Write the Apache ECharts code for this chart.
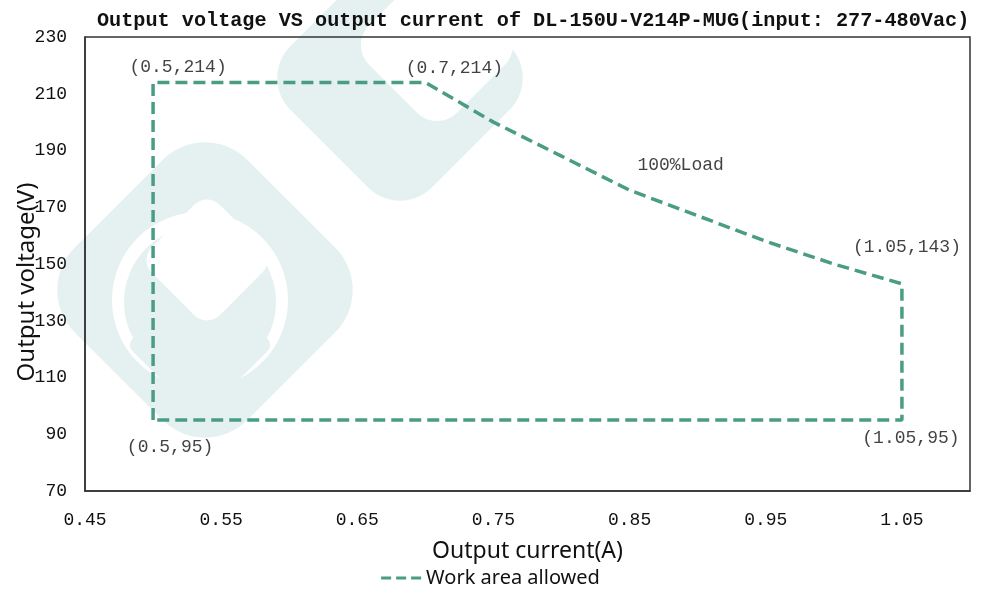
<!DOCTYPE html>
<html>
<head>
<meta charset="utf-8">
<script src="https://cdn.jsdelivr.net/npm/echarts@6/dist/echarts.min.js"></script>
<style>html,body{margin:0;padding:0;background:#fff}#c{width:981px;height:591px}</style>
</head>
<body>
<div id="c"></div>
<script>
// ---- data ----
var titleText = 'Output voltage VS output current of DL-150U-V214P-MUG(input: 277-480Vac)';
var xName = 'Output current(A)';
var yName = 'Output voltage(V)';
var seriesName = 'Work area allowed';
// work-area boundary (current A, voltage V)
var workCurrent = [0.5, 0.5, 0.7, 0.75, 0.8, 0.85, 0.9, 0.95, 1.0, 1.05, 1.05, 0.5];
var workVoltage = [95, 214, 214, 200, 188, 176, 167, 158, 150, 143, 95, 95];
// annotated points
var annCurrent = [0.5, 0.7, 1.05, 0.5, 1.05, 0.85];
var annVoltage = [214, 214, 143, 95, 95, 176];
var annText = ['(0.5,214)', '(0.7,214)', '(1.05,143)', '(0.5,95)', '(1.05,95)', '100%Load'];
var xMin = 0.45, xMax = 1.1, xStep = 0.1;
var yMin = 70, yMax = 230, yStep = 20;

// ---- styling / layout ----
var annOffsets = [[25, -15], [29, -14], [5, -37], [17, 27], [9, 18], [51, -25]];
var lineColor = '#4a9d84';
var mono = '"Liberation Mono", "DejaVu Sans Mono", monospace';
var sans = '"Noto Sans", "Open Sans", sans-serif';
var wm = '#e5f1f0';

var workData = workCurrent.map(function (c, i) { return [c, workVoltage[i]]; });
var annData = annCurrent.map(function (c, i) {
  return {
    value: [c, annVoltage[i]],
    label: { show: true, formatter: annText[i], offset: annOffsets[i] }
  };
});

var chart = echarts.init(document.getElementById('c'), null, { renderer: 'canvas' });
chart.setOption({
  backgroundColor: '#fff',
  animation: false,
  title: {
    text: titleText,
    left: 92, top: 6,
    textStyle: { fontFamily: mono, fontSize: 20.2, fontWeight: 'bold', color: '#111' }
  },
  graphic: [
    // top watermark
    { type: 'rect', x: 400, y: 78, rotation: Math.PI / 4, z: -10, silent: true,
      shape: { x: -100, y: -100, width: 200, height: 200, r: 45 }, style: { fill: wm } },
    { type: 'rect', x: 437, y: 45, rotation: Math.PI / 4, z: -9, silent: true,
      shape: { x: -62, y: -62, width: 124, height: 124, r: 28 }, style: { fill: '#fff' } },
    // left watermark
    { type: 'rect', x: 205, y: 290, rotation: Math.PI / 4, z: -10, silent: true,
      shape: { x: -122, y: -122, width: 244, height: 244, r: 60 }, style: { fill: wm } },
    { type: 'circle', x: 200, y: 300, z: -9, silent: true,
      shape: { r: 88 }, style: { fill: '#fff' } },
    { type: 'circle', x: 200, y: 302, z: -8, silent: true,
      shape: { r: 76 }, style: { fill: wm } },
    { type: 'rect', x: 200, y: 345, rotation: Math.PI / 4, z: -8, silent: true,
      shape: { x: -52, y: -52, width: 104, height: 104, r: 8 }, style: { fill: wm } },
    { type: 'rect', x: 207, y: 260, rotation: Math.PI / 4, z: -7, silent: true,
      shape: { x: -48, y: -48, width: 96, height: 96, r: 18 }, style: { fill: '#fff' } }
  ],
  grid: {
    left: 85, right: 11, top: 37, bottom: 100,
    outerBoundsMode: 'none', containLabel: false,
    show: true, borderColor: '#333', borderWidth: 1.5, backgroundColor: 'transparent'
  },
  legend: {
    bottom: -2, left: 'center',
    itemWidth: 40, itemHeight: 3.5, itemGap: 4,
    textStyle: { fontFamily: sans, fontSize: 20, color: '#111' },
    data: [{ name: seriesName, icon: 'path://M0,0h10v3h-10z M15,0h10v3h-10z M30,0h10v3h-10z' }]
  },
  xAxis: {
    type: 'value', min: xMin, max: xMax, interval: xStep,
    name: xName, nameLocation: 'middle', nameGap: 49, nameMoveOverlap: false,
    nameTextStyle: { fontFamily: sans, fontSize: 23, color: '#111' },
    axisLine: { show: true, lineStyle: { color: '#333', width: 1.5 } },
    axisTick: { show: false },
    splitLine: { show: false },
    axisLabel: {
      margin: 20, fontFamily: mono, fontSize: 18, color: '#111',
      formatter: function (v) { return v > 1.06 ? '' : v.toFixed(2); }
    }
  },
  yAxis: {
    type: 'value', min: yMin, max: yMax, interval: yStep,
    name: yName, nameLocation: 'middle', nameGap: 46, nameMoveOverlap: false,
    nameTextStyle: { fontFamily: sans, fontSize: 24, color: '#111', padding: [0, 36, 0, 0] },
    axisLine: { show: true, lineStyle: { color: '#333', width: 1.5 } },
    axisTick: { show: false },
    splitLine: { show: false },
    axisLabel: { margin: 18, fontFamily: mono, fontSize: 18, color: '#111' }
  },
  series: [
    {
      name: seriesName, type: 'line', data: workData,
      symbol: 'none', smooth: false,
      lineStyle: { color: lineColor, width: 3.5, type: [12, 6] },
      itemStyle: { color: lineColor },
      z: 3
    },
    {
      name: 'labels', type: 'scatter', data: annData,
      symbolSize: 1, itemStyle: { color: 'rgba(0,0,0,0)' },
      label: { position: 'inside', fontFamily: mono, fontSize: 18, color: '#111' },
      z: 4, silent: true
    }
  ]
});
</script>
</body>
</html>
